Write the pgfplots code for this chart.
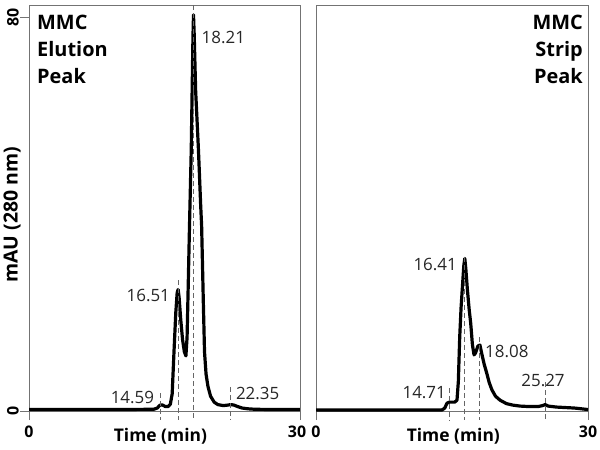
\documentclass[border=0pt]{standalone}
\usepackage{pgfplots}
\pgfplotsset{compat=1.18}
\usepackage{fontspec}
\setmainfont{Open Sans}

\pgfplotsset{
  chrom/.style={
    scale only axis, height=406bp,
    xmin=0, xmax=30, ymin=0, ymax=82.5,
    clip=false,
    axis line style={black!55, line width=0.9bp},
    tick align=outside, tick pos=left,
    major tick length=9bp,
    tick style={black!55, line width=0.9bp},
    xtick={0,30},
    /pgf/number format/assume math mode=true,
    ticklabel style={font=\bfseries\fontsize{16}{16}\selectfont},
    xticklabel style={yshift=-2bp},
    xlabel={Time (min)},
    label style={font=\bfseries\fontsize{17.5}{17.5}\selectfont},
    xlabel style={at={(axis description cs:0.5,0)}, anchor=base, yshift=-30bp},
  },
  trace/.style={black, line width=3.2bp, line join=round},
  mark line/.style={black!60, line width=0.9bp, dash pattern=on 5bp off 3bp},
}
\tikzset{
  peak lbl/.style={font=\fontsize{17}{17}\selectfont, inner sep=0pt, text=black!85},
  panel title/.style={font=\bfseries\fontsize{20}{27}\selectfont, inner sep=0pt},
}

\begin{document}
\begin{tikzpicture}
\useasboundingbox (0,0) rectangle (600bp,450bp);

% elution peak
\begin{axis}[chrom, at={(29bp,39bp)}, anchor=south west, width=271bp,
  xticklabels={0,\kern-6bp 30},
  ytick={0,80},
  yticklabel style={rotate=90, anchor=south, inner sep=1bp},
  ylabel={mAU (280 nm)},
  ylabel style={at={(axis description cs:-0.0627,0.483)}, anchor=center,
    font=\bfseries\fontsize{19.5}{19.5}\selectfont},
  xlabel style={at={(axis description cs:0.485,0)}}]
\addplot[trace] coordinates {
(0,0.3) (5,0.3) (10,0.3) (13.8,0.35) (14.2,0.6) (14.45,1.1) (14.59,1.25)
(14.8,1.2) (15.1,0.9) (15.4,0.9) (15.65,1.4) (15.85,3.5) (16.05,12)
(16.25,20) (16.4,24) (16.51,24.7) (16.62,23) (16.8,18.5) (17.0,14.5)
(17.2,12) (17.37,11.2) (17.5,15) (17.62,25) (17.76,37) (17.96,53)
(18.1,70) (18.15,76) (18.21,80.5) (18.28,77) (18.45,65) (18.76,53)
(19.0,42) (19.11,37.6) (19.3,22) (19.43,12) (19.6,7.5) (19.81,5)
(20.1,3) (20.5,1.8) (20.9,1.3) (21.5,1.1) (22.0,1.2) (22.35,1.3)
(22.7,1.2) (23.1,0.9) (23.6,0.6) (24.2,0.45) (25,0.35) (27,0.3) (30,0.3)
};
\addplot[mark line] coordinates {(14.59,3.7) (14.59,-1.83)};
\addplot[mark line] coordinates {(16.51,26.6) (16.51,-1.83)};
\addplot[mark line] coordinates {(18.21,82.5) (18.21,-1.83)};
\addplot[mark line] coordinates {(22.35,4.9) (22.35,-1.83)};
\node[peak lbl, anchor=east] at (axis cs:13.86,2.8) {14.59};
\node[peak lbl, anchor=east] at (axis cs:15.62,23.4) {16.51};
\node[peak lbl, anchor=west] at (axis cs:19.1,75.8) {18.21};
\node[peak lbl, anchor=west] at (axis cs:22.9,3.5) {22.35};
\node[panel title, anchor=north west, align=left, xshift=8bp, yshift=-10bp]
  at (rel axis cs:0,1) {MMC\\Elution\\Peak};
\end{axis}

% strip peak
\begin{axis}[chrom, at={(316bp,39bp)}, anchor=south west, width=272bp,
  ytick=\empty,
  xlabel style={at={(axis description cs:0.505,0)}}]
\addplot[trace] coordinates {
(0,0.2) (10,0.2) (13.9,0.2) (14.2,0.6) (14.45,1.6) (14.71,1.8) (15.0,1.8)
(15.3,1.8) (15.55,2.2) (15.7,6) (15.85,15) (16.0,21) (16.14,25)
(16.3,29.5) (16.41,31) (16.52,29) (16.7,24.6) (16.9,20.5) (17.06,17.9)
(17.25,13.5) (17.43,11.4) (17.6,11.8) (17.85,13.2) (18.08,13.4)
(18.3,11.5) (18.55,9.5) (18.83,7.7) (19.1,5.8) (19.4,4.3) (19.8,3.0)
(20.3,2.2) (21.0,1.5) (21.7,1.2) (22.5,1.0) (23.5,0.9) (24.5,0.9)
(25.0,1.1) (25.27,1.3) (25.6,1.0) (26.5,0.8) (27.5,0.7) (28.5,0.6)
(29.5,0.4) (30,0.3)
};
\addplot[mark line] coordinates {(14.71,4.7) (14.71,-1.83)};
\addplot[mark line] coordinates {(16.41,31.3) (16.41,-1.83)};
\addplot[mark line] coordinates {(18.08,15) (18.08,-1.83)};
\addplot[mark line] coordinates {(25.27,5.9) (25.27,-1.83)};
\node[peak lbl, anchor=east] at (axis cs:14.34,3.7) {14.71};
\node[peak lbl, anchor=east] at (axis cs:15.55,29.7) {16.41};
\node[peak lbl, anchor=west] at (axis cs:18.64,12) {18.08};
\node[peak lbl, anchor=center] at (axis cs:25.04,6.3) {25.27};
\node[panel title, anchor=north east, align=right, xshift=-5bp, yshift=-10bp]
  at (rel axis cs:1,1) {MMC\\Strip\\Peak};
\end{axis}
\end{tikzpicture}
\end{document}
